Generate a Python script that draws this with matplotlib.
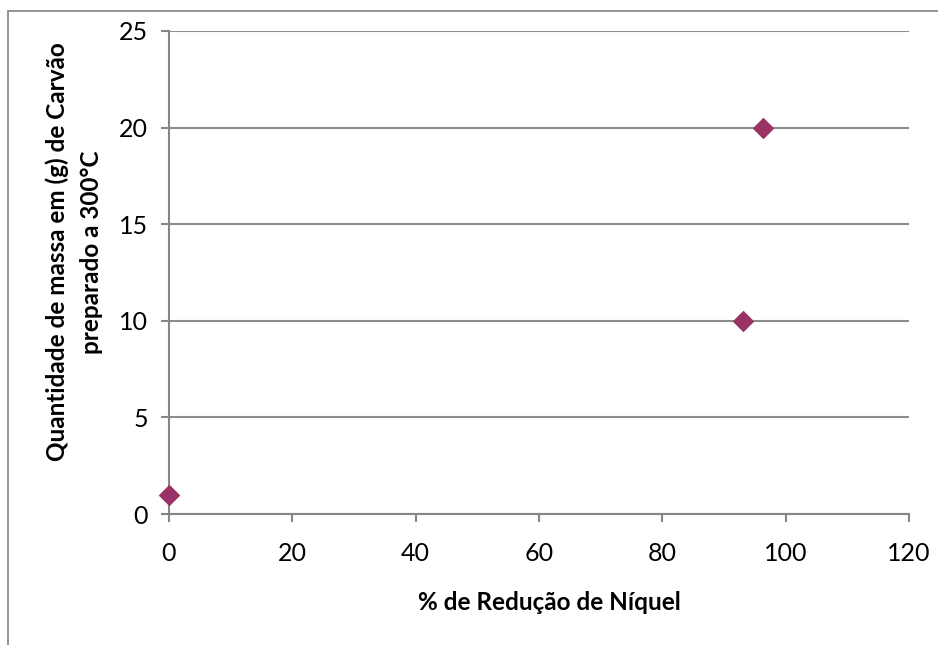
import matplotlib
matplotlib.use("Agg")
import matplotlib.pyplot as plt
from matplotlib.patches import Rectangle

# % de redução de níquel x massa de carvão (g)
reducao = [0, 93, 96.4]
massa = [1, 10, 20]

xticks = [0, 20, 40, 60, 80, 100, 120]
yticks = [0, 5, 10, 15, 20, 25]

plt.rcParams['font.family'] = ['Lato', 'DejaVu Sans']

fig = plt.figure(figsize=(9.38, 6.45), dpi=100)
ax = fig.add_axes([169/938, 1 - 514/645, 740/938, 483/645])

# moldura do gráfico
fig.patches.append(Rectangle((8/938, -0.2), 1.2, 0.2 + (645 - 11)/645,
                             transform=fig.transFigure, fill=False,
                             edgecolor='#8c8c8c', linewidth=1.3))

ax.scatter(reducao, massa, marker='D', s=11**2, color='#993366',
           linewidths=0, zorder=3, clip_on=False)

ax.set_xlim(0, 120)
ax.set_ylim(0, 25)
ax.set_xticks(xticks)
ax.set_yticks(yticks)
ax.yaxis.grid(True, color='#8c8c8c', linewidth=1.5)
ax.set_axisbelow(True)

for s in ['top', 'right']:
    ax.spines[s].set_visible(False)
for s in ['left', 'bottom']:
    ax.spines[s].set_color('#868686')
    ax.spines[s].set_linewidth(1.5)

ax.tick_params(axis='both', colors='#868686', width=1.5, length=6,
               labelcolor='black', labelsize=18)
ax.tick_params(axis='x', pad=14)
ax.tick_params(axis='y', pad=9)

fig.text(549/938, 1 - 602/645, '% de Redução de Níquel',
         fontsize=17.5, fontweight='bold', ha='center', va='center')
fig.text(74/938, 1 - 252/645,
         'Quantidade de massa em (g) de Carvão\npreparado a 300°C',
         fontsize=17.5, fontweight='bold', ha='center', va='center',
         rotation=90, multialignment='center', linespacing=1.55)

fig.savefig('out.png', dpi=100)
